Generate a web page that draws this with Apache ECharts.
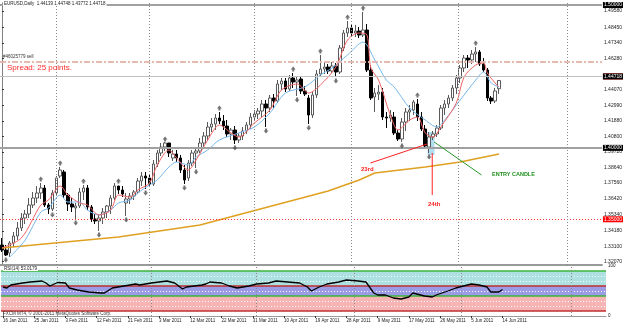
<!DOCTYPE html>
<html>
<head>
<meta charset="utf-8">
<script src="https://cdn.jsdelivr.net/npm/echarts@6/dist/echarts.min.js"></script>
<style>
    html, body { margin: 0; padding: 0; background: #fff; }
    #chart { width: 625px; height: 325px; }
</style>
</head>
<body>
<div id="chart"></div>
<script>
// daily bars, [open, close, low, high]
const ohlc = [
    [1.3320, 1.3285, 1.3271, 1.3369], [1.3285, 1.3250, 1.3243, 1.3320], [1.3264, 1.3334, 1.3236, 1.3348],
    [1.3334, 1.3383, 1.3306, 1.3411], [1.3383, 1.3439, 1.3355, 1.3481], [1.3439, 1.3509, 1.3418, 1.3544],
    [1.3509, 1.3537, 1.3467, 1.3565], [1.3537, 1.3600, 1.3509, 1.3649], [1.3600, 1.3649, 1.3579, 1.3691],
    [1.3649, 1.3684, 1.3614, 1.3733], [1.3684, 1.3719, 1.3642, 1.3754], [1.3719, 1.3600, 1.3586, 1.3740],
    [1.3600, 1.3572, 1.3537, 1.3614], [1.3572, 1.3684, 1.3558, 1.3705], [1.3684, 1.3789, 1.3663, 1.3803],
    [1.3803, 1.3845, 1.3789, 1.3866], [1.3831, 1.3670, 1.3649, 1.3845], [1.3670, 1.3607, 1.3558, 1.3684],
    [1.3607, 1.3586, 1.3551, 1.3649], [1.3579, 1.3593, 1.3502, 1.3614], [1.3593, 1.3691, 1.3579, 1.3719],
    [1.3691, 1.3719, 1.3635, 1.3740], [1.3719, 1.3586, 1.3565, 1.3740], [1.3586, 1.3502, 1.3481, 1.3600],
    [1.3502, 1.3488, 1.3467, 1.3537], [1.3488, 1.3509, 1.3418, 1.3537], [1.3509, 1.3551, 1.3467, 1.3579],
    [1.3551, 1.3593, 1.3509, 1.3600], [1.3593, 1.3649, 1.3537, 1.3670], [1.3649, 1.3733, 1.3635, 1.3754],
    [1.3733, 1.3705, 1.3677, 1.3733], [1.3705, 1.3677, 1.3656, 1.3733], [1.3614, 1.3642, 1.3523, 1.3684],
    [1.3642, 1.3663, 1.3607, 1.3684], [1.3663, 1.3691, 1.3635, 1.3705], [1.3691, 1.3768, 1.3677, 1.3789],
    [1.3768, 1.3803, 1.3733, 1.3831], [1.3803, 1.3789, 1.3712, 1.3831], [1.3789, 1.3747, 1.3726, 1.3817],
    [1.3747, 1.3887, 1.3733, 1.3915], [1.3887, 1.3964, 1.3866, 1.3985], [1.3964, 1.4006, 1.3943, 1.4034],
    [1.4006, 1.4034, 1.3978, 1.4041], [1.4034, 1.3964, 1.3936, 1.4034], [1.3929, 1.3957, 1.3908, 1.3985],
    [1.3957, 1.3929, 1.3901, 1.3985], [1.3929, 1.3845, 1.3824, 1.3950], [1.3845, 1.3775, 1.3747, 1.3880],
    [1.3789, 1.3894, 1.3768, 1.3915], [1.3894, 1.3964, 1.3873, 1.3985], [1.3964, 1.3978, 1.3859, 1.4006],
    [1.3978, 1.4034, 1.3964, 1.4069], [1.4034, 1.4083, 1.3999, 1.4111], [1.4083, 1.4146, 1.4055, 1.4181],
    [1.4146, 1.4167, 1.4111, 1.4209], [1.4167, 1.4209, 1.4125, 1.4237], [1.4209, 1.4188, 1.4167, 1.4251],
    [1.4188, 1.4153, 1.4125, 1.4230], [1.4153, 1.4097, 1.4076, 1.4195], [1.4097, 1.4125, 1.4055, 1.4139],
    [1.4125, 1.4055, 1.4027, 1.4153], [1.4055, 1.4083, 1.4034, 1.4104], [1.4083, 1.4118, 1.4055, 1.4146],
    [1.4118, 1.4160, 1.4097, 1.4181], [1.4160, 1.4216, 1.4132, 1.4244], [1.4216, 1.4237, 1.4188, 1.4265],
    [1.4237, 1.4258, 1.4202, 1.4279], [1.4258, 1.4307, 1.4216, 1.4335], [1.4307, 1.4279, 1.4146, 1.4335],
    [1.4279, 1.4349, 1.4251, 1.4370], [1.4349, 1.4328, 1.4279, 1.4377], [1.4328, 1.4447, 1.4314, 1.4475],
    [1.4447, 1.4468, 1.4405, 1.4489], [1.4468, 1.4412, 1.4391, 1.4489], [1.4412, 1.4489, 1.4398, 1.4510],
    [1.4489, 1.4461, 1.4419, 1.4524], [1.4461, 1.4475, 1.4363, 1.4503], [1.4482, 1.4398, 1.4377, 1.4503],
    [1.4398, 1.4377, 1.4363, 1.4433], [1.4349, 1.4230, 1.4167, 1.4370], [1.4230, 1.4370, 1.4209, 1.4391],
    [1.4370, 1.4517, 1.4349, 1.4545], [1.4517, 1.4552, 1.4496, 1.4650], [1.4552, 1.4566, 1.4517, 1.4601],
    [1.4566, 1.4538, 1.4517, 1.4587], [1.4538, 1.4573, 1.4524, 1.4601], [1.4573, 1.4531, 1.4496, 1.4594],
    [1.4531, 1.4699, 1.4517, 1.4720], [1.4699, 1.4804, 1.4678, 1.4825], [1.4804, 1.4839, 1.4776, 1.4888],
    [1.4839, 1.4804, 1.4783, 1.4867], [1.4804, 1.4818, 1.4776, 1.4860], [1.4818, 1.4790, 1.4769, 1.4846],
    [1.4790, 1.4825, 1.4776, 1.4951], [1.4825, 1.4545, 1.4531, 1.4867], [1.4545, 1.4349, 1.4335, 1.4580],
    [1.4356, 1.4384, 1.4251, 1.4419], [1.4377, 1.4391, 1.4335, 1.4440], [1.4391, 1.4216, 1.4195, 1.4419],
    [1.4216, 1.4209, 1.4139, 1.4251], [1.4209, 1.4230, 1.4181, 1.4265], [1.4216, 1.4104, 1.4090, 1.4251],
    [1.4104, 1.4062, 1.4048, 1.4125], [1.4062, 1.4181, 1.4041, 1.4209], [1.4181, 1.4251, 1.4118, 1.4279],
    [1.4251, 1.4265, 1.4188, 1.4300], [1.4265, 1.4321, 1.4230, 1.4335], [1.4307, 1.4216, 1.4188, 1.4342],
    [1.4216, 1.4132, 1.4118, 1.4251], [1.4132, 1.4013, 1.3999, 1.4160], [1.4006, 1.4076, 1.3964, 1.4111],
    [1.4076, 1.4097, 1.4055, 1.4118], [1.4097, 1.4139, 1.4076, 1.4160], [1.4139, 1.4279, 1.4125, 1.4300],
    [1.4279, 1.4307, 1.4230, 1.4335], [1.4307, 1.4349, 1.4279, 1.4370], [1.4349, 1.4419, 1.4328, 1.4440],
    [1.4419, 1.4489, 1.4377, 1.4510], [1.4489, 1.4559, 1.4454, 1.4580], [1.4559, 1.4629, 1.4531, 1.4650],
    [1.4629, 1.4615, 1.4559, 1.4650], [1.4615, 1.4657, 1.4587, 1.4685], [1.4657, 1.4671, 1.4601, 1.4706],
    [1.4671, 1.4587, 1.4573, 1.4685], [1.4587, 1.4545, 1.4531, 1.4629], [1.4545, 1.4349, 1.4328, 1.4559],
    [1.4349, 1.4328, 1.4307, 1.4363], [1.4328, 1.4398, 1.4314, 1.4419], [1.44139, 1.44718, 1.43772, 1.44748]
];

// moving averages, [bar, price]
const fastMA = [
    [0, 1.3299], [5, 1.3369], [10, 1.3600], [12, 1.3635], [15, 1.3733], [17, 1.3670], [20, 1.3614],
    [22, 1.3600], [25, 1.3530], [28, 1.3565], [30, 1.3670], [33, 1.3656], [35, 1.3705], [38, 1.3754],
    [40, 1.3880], [43, 1.3985], [45, 1.3929], [48, 1.3845], [50, 1.3915], [53, 1.4055], [56, 1.4160],
    [59, 1.4104], [61, 1.4076], [65, 1.4174], [69, 1.4265], [72, 1.4405], [76, 1.4447], [79, 1.4384],
    [82, 1.4440], [86, 1.4566], [89, 1.4755], [92, 1.4804], [94, 1.4790], [95, 1.4559], [97, 1.4475],
    [100, 1.4230], [102, 1.4125], [105, 1.4195], [107, 1.4216], [109, 1.4104], [111, 1.4076],
    [113, 1.4146], [117, 1.4314], [119, 1.4496], [122, 1.4580], [124, 1.4594], [125, 1.4524],
    [127, 1.4454], [128, 1.4426]
];
const slowMA = [
    [2, 1.3236], [6, 1.3355], [10, 1.3551], [12, 1.3579], [15, 1.3670], [17, 1.3621], [20, 1.3621],
    [22, 1.3565], [25, 1.3530], [28, 1.3565], [30, 1.3614], [33, 1.3635], [35, 1.3684], [38, 1.3740],
    [40, 1.3775], [43, 1.3866], [45, 1.3901], [48, 1.3880], [50, 1.3936], [53, 1.3985], [56, 1.4055],
    [61, 1.4104], [65, 1.4146], [69, 1.4244], [73, 1.4384], [78, 1.4426], [82, 1.4510], [85, 1.4559],
    [89, 1.4650], [93, 1.4741], [96, 1.4615], [99, 1.4475], [101, 1.4426], [105, 1.4279], [109, 1.4195],
    [112, 1.4146], [114, 1.4195], [118, 1.4335], [122, 1.4475], [124, 1.4531], [126, 1.4454], [128, 1.4426]
];
const longMA = [
    [0, 1.3299], [30, 1.3376], [51, 1.3460], [84, 1.3698], [92, 1.3775], [96, 1.3824],
    [109, 1.3866], [118, 1.3901], [128, 1.3957]
];

// fractal arrows
const upFractals = [
    [10, 1.3782], [15, 1.3894], [21, 1.3768], [30, 1.3768], [42, 1.4062], [56, 1.4279],
    [75, 1.4552], [82, 1.4678], [89, 1.4916], [93, 1.4979], [107, 1.4370], [122, 1.4734]
];
const downFractals = [
    [1, 1.3215], [13, 1.3530], [19, 1.3474], [25, 1.3390], [32, 1.3495], [37, 1.3684], [47, 1.3719],
    [50, 1.3831], [60, 1.3999], [68, 1.4118], [76, 1.4335], [79, 1.4139], [86, 1.4468], [103, 1.4013],
    [110, 1.3936]
];

// RSI(14), [bar, value]
const rsi = [
    [0, 58], [1, 56], [2, 62], [5, 66], [7, 68], [10, 70], [11, 66], [12, 60], [14, 67], [16, 66],
    [17, 56], [19, 52], [22, 48], [25, 46], [26, 46], [28, 56], [31, 60], [34, 64], [35, 62], [38, 66],
    [40, 68], [42, 70], [44, 66], [46, 54], [47, 58], [49, 60], [51, 62], [52, 64], [53, 68], [56, 66],
    [58, 60], [60, 56], [63, 60], [65, 64], [68, 66], [70, 70], [73, 68], [76, 66], [78, 58], [79, 50],
    [81, 58], [83, 64], [86, 68], [88, 72], [91, 70], [93, 68], [95, 46], [96, 42], [98, 42], [100, 36],
    [102, 34], [104, 38], [105, 46], [108, 40], [110, 38], [111, 42], [114, 50], [116, 56], [119, 62],
    [120, 64], [122, 62], [124, 58], [125, 48], [127, 48], [128, 53]
];

const priceTicks = [1.4958, 1.4845, 1.4734, 1.4628, 1.4407, 1.4299, 1.4188, 1.4080, 1.3972,
    1.3864, 1.3756, 1.3642, 1.3534, 1.3418, 1.3310, 1.3207];
const dateLabels = ['16 Jan 2011', '25 Jan 2011', '3 Feb 2011', '12 Feb 2011', '21 Feb 2011', '3 Mar 2011',
    '12 Mar 2011', '22 Mar 2011', '31 Mar 2011', '10 Apr 2011', '19 Apr 2011', '28 Apr 2011', '9 May 2011',
    '17 May 2011', '26 May 2011', '5 Jun 2011', '14 Jun 2011'];
const labelBars = [0, 8, 16, 24, 32, 40, 48, 56, 64, 72, 80, 88, 96, 104, 112, 120, 128];
const monthBars = [14, 38, 65, 90, 117.5, 145.5];

// horizontal lines: 1.50, sell order, spread, 1.45, bid, 1.40, 1.35
const hLines = [1.5, 1.4608, 1.4552, 1.45, 1.44718, 1.40, 1.35];
const rsiLevels = [90, 60, 40, 10];
const rsiDots = [80, 70, 50, 30, 20];
const rsiBoxes = [90, 80, 70, 60, 50, 40, 30, 20, 10];

// annotations
const line23 = [[94.9, 1.3894], [109.5, 1.4027]];
const line24 = [[110.8, 1.3964], [110.8, 1.3670]];
const lineEntry = [[111.3, 1.4041], [123.5, 1.3810]];
const entryBox = [[109.6, 111.4, 1.3950, 1.4111]];

const SLOTS = 155;
const cats = [];
for (let i = 0; i < SLOTS; i++) cats.push(String(i));

const FONT = 'Liberation Sans';
const arrowPath = 'path://M5 0 L10 6 L7 6 L7 10 L3 10 L3 6 L0 6 Z';

const hStyles = [
    { lineStyle: { color: '#a0a0a0', width: 2, type: 'solid' }, box: '#000' },
    { lineStyle: { color: '#aab8d0', width: 1.5, type: [6, 2, 2, 2] } },
    { lineStyle: { color: '#f4b4a4', width: 1.5, type: [6, 2, 2, 2] } },
    { lineStyle: { color: '#ff3030', width: 1, type: [1, 2] }, box: '#ff0000' },
    { lineStyle: { color: '#c0c0c0', width: 1, type: 'solid' }, box: '#000' },
    { lineStyle: { color: '#a0a0a0', width: 2, type: 'solid' }, box: '#000' },
    { lineStyle: { color: '#ff3030', width: 1, type: [1, 2] }, box: '#ff0000' }
];

const hLineData = hLines.map(function (v, i) {
    const s = hStyles[i];
    return {
        yAxis: v,
        lineStyle: s.lineStyle,
        label: s.box ? {
            show: true, position: 'end', distance: 1,
            formatter: v.toFixed(5), backgroundColor: s.box, color: '#fff',
            fontSize: 5, fontFamily: FONT, padding: [1, 1, 0, 1]
        } : { show: false }
    };
});

const boxColors = { 90: '#00a000', 50: '#0000ff', 40: '#00a000' };
const rsiLineData = [];
rsiLevels.forEach(function (v) {
    rsiLineData.push({ yAxis: v, lineStyle: { color: (v === 90 || v === 40) ? '#3cb43c' : '#c03030', width: 1.5, type: 'solid' } });
});
rsiDots.forEach(function (v) {
    rsiLineData.push({ yAxis: v, lineStyle: { color: '#ffffff', width: 1, type: [1, 2] } });
});
rsiBoxes.forEach(function (v) {
    rsiLineData.push({
        yAxis: v, lineStyle: { width: 0, opacity: 0 },
        label: {
            show: true, position: 'end', distance: 1, offset: [0, 2],
            formatter: v.toFixed(4), backgroundColor: boxColors[v] || '#ff0000', color: '#fff',
            fontSize: 4.5, fontFamily: FONT, padding: [0, 1]
        }
    });
});
monthBars.forEach(function (b) {
    rsiLineData.push({ xAxis: b, lineStyle: { color: '#8a8a8a', width: 1, type: [1, 2] } });
});

const chart = echarts.init(document.getElementById('chart'));

const option = {
    backgroundColor: '#ffffff',
    animation: false,
    textStyle: { fontFamily: FONT },
    grid: [
        { left: 0, top: 3, width: 606, height: 262 },
        { left: 0, top: 266, width: 606, height: 50 }
    ],
    xAxis: [
        {
            type: 'category', gridIndex: 0, data: cats, boundaryGap: true,
            axisLabel: { show: false }, axisTick: { show: false },
            axisLine: { show: true, lineStyle: { color: '#9a9a9a', width: 2 } }
        },
        { type: 'value', gridIndex: 0, min: -0.5, max: SLOTS - 0.5, show: false },
        {
            type: 'value', gridIndex: 1, min: -0.5, max: SLOTS - 0.5,
            splitLine: { show: false },
            axisLine: { show: true, lineStyle: { color: '#9a9a9a', width: 1 } },
            axisTick: { show: true, customValues: labelBars, length: 2, lineStyle: { color: '#333' } },
            axisLabel: {
                customValues: labelBars, align: 'left', fontSize: 4.5, margin: 2, color: '#222',
                formatter: function (v) { return dateLabels[labelBars.indexOf(v)] || ''; }
            }
        }
    ],
    yAxis: [
        {
            type: 'value', gridIndex: 0, position: 'right', min: 1.3180, max: 1.5014,
            splitLine: { show: false },
            axisLine: { show: true, lineStyle: { color: '#808080', width: 1 } },
            axisTick: { show: true, customValues: priceTicks, length: 2, lineStyle: { color: '#333' } },
            axisLabel: {
                customValues: priceTicks, fontSize: 5, margin: 2, color: '#222',
                formatter: function (v) { return v.toFixed(5); }
            }
        },
        {
            type: 'value', gridIndex: 1, position: 'right', min: 0, max: 100,
            splitLine: { show: false },
            axisLine: { show: true, lineStyle: { color: '#808080', width: 1 } },
            axisTick: { show: false },
            axisLabel: { customValues: [100, 0], fontSize: 4.5, margin: 2, color: '#222' }
        }
    ],
    series: [
        {
            type: 'custom', xAxisIndex: 1, yAxisIndex: 0, z: 1,
            data: entryBox,
            encode: { x: [0, 1], y: [2, 3] },
            renderItem: function (params, api) {
                const a = api.coord([api.value(0), api.value(3)]);
                const b = api.coord([api.value(1), api.value(2)]);
                return {
                    type: 'rect',
                    shape: { x: a[0], y: a[1], width: b[0] - a[0], height: b[1] - a[1] },
                    style: { fill: 'rgba(150,210,235,0.75)' }
                };
            }
        },
        {
            type: 'candlestick', xAxisIndex: 0, yAxisIndex: 0, z: 3,
            data: ohlc,
            barWidth: 3,
            itemStyle: {
                color: '#ffffff', color0: '#000000',
                borderColor: '#5a5a5a', borderColor0: '#000000', borderWidth: 1
            },
            markLine: {
                silent: true, symbol: ['none', 'none'], animation: false,
                data: hLineData
            }
        },
        {
            type: 'line', xAxisIndex: 1, yAxisIndex: 0, z: 4,
            data: longMA, symbol: 'none',
            lineStyle: { color: '#e0a020', width: 1.5 },
            markLine: {
                silent: true, symbol: ['none', 'none'], label: { show: false },
                data: monthBars.map(function (b) {
                    return { xAxis: b, lineStyle: { color: '#8a8a8a', width: 1, type: [1, 2] } };
                })
            }
        },
        {
            type: 'line', xAxisIndex: 1, yAxisIndex: 0, z: 4,
            data: slowMA, symbol: 'none', smooth: 0.3,
            lineStyle: { color: '#78b8ee', width: 1 }
        },
        {
            type: 'line', xAxisIndex: 1, yAxisIndex: 0, z: 4,
            data: fastMA, symbol: 'none', smooth: 0.3,
            lineStyle: { color: '#f06464', width: 1 }
        },
        {
            type: 'scatter', xAxisIndex: 1, yAxisIndex: 0, z: 5,
            data: upFractals, symbol: arrowPath, symbolSize: [5, 5],
            itemStyle: { color: '#505050' }
        },
        {
            type: 'scatter', xAxisIndex: 1, yAxisIndex: 0, z: 5,
            data: downFractals, symbol: arrowPath, symbolSize: [5, 5], symbolRotate: 180,
            itemStyle: { color: '#505050' }
        },
        {
            type: 'line', xAxisIndex: 1, yAxisIndex: 0, z: 6,
            data: line23, symbol: 'none', lineStyle: { color: '#ff2020', width: 1 }
        },
        {
            type: 'line', xAxisIndex: 1, yAxisIndex: 0, z: 6,
            data: line24, symbol: 'none', lineStyle: { color: '#ff2020', width: 1 }
        },
        {
            type: 'line', xAxisIndex: 1, yAxisIndex: 0, z: 6,
            data: lineEntry, symbol: 'none', lineStyle: { color: '#2a9a2a', width: 1 }
        },
        {
            type: 'line', xAxisIndex: 2, yAxisIndex: 1, z: 5,
            data: rsi, symbol: 'none',
            lineStyle: { color: '#000000', width: 1.3 },
            markArea: {
                silent: true,
                data: [
                    [{ yAxis: 60, itemStyle: { color: '#ade0e0' } }, { yAxis: 90 }],
                    [{ yAxis: 40, itemStyle: { color: '#9c9ce6' } }, { yAxis: 60 }],
                    [{ yAxis: 10, itemStyle: { color: '#f7b4b4' } }, { yAxis: 40 }]
                ]
            },
            markLine: {
                silent: true, symbol: ['none', 'none'], label: { show: false },
                data: rsiLineData
            }
        }
    ],
    graphic: [
        {
            type: 'text', left: 3, top: 1, z: 20,
            style: {
                text: 'EURUSD,Daily  1.44139 1.44748 1.43772 1.44718', fontSize: 4.5, fontFamily: FONT,
                fill: '#222', backgroundColor: '#fff', padding: [0, 1]
            }
        },
        {
            type: 'text', left: 3, top: 54, z: 20,
            style: { text: '#46025779 sell', fontSize: 4.5, fontFamily: FONT, fill: '#333' }
        },
        {
            type: 'text', left: 7, top: 64, z: 20,
            style: { text: 'Spread: 25 points.', fontSize: 8, fontFamily: FONT, fill: '#ff2a2a' }
        },
        {
            type: 'text', left: 361, top: 166, z: 20,
            style: { text: '23rd', fontSize: 6, fontWeight: 'bold', fontFamily: FONT, fill: '#ff2020' }
        },
        {
            type: 'text', left: 428, top: 201, z: 20,
            style: { text: '24th', fontSize: 6, fontWeight: 'bold', fontFamily: FONT, fill: '#ff2020' }
        },
        {
            type: 'text', left: 492, top: 171, z: 20,
            style: { text: 'ENTRY CANDLE', fontSize: 5.5, fontWeight: 'bold', fontFamily: FONT, fill: '#1f8f1f' }
        },
        {
            type: 'text', left: 3, top: 266, z: 20,
            style: {
                text: 'RSI(14) 53.0179', fontSize: 4.5, fontFamily: FONT,
                fill: '#222', backgroundColor: '#fff', padding: [0, 1]
            }
        },
        {
            type: 'text', left: 3, top: 311, z: 20,
            style: { text: 'FXCM MT4, © 2001-2011 MetaQuotes Software Corp.', fontSize: 4.5, fontFamily: FONT, fill: '#333' }
        }
    ]
};

chart.setOption(option);
</script>
</body>
</html>
